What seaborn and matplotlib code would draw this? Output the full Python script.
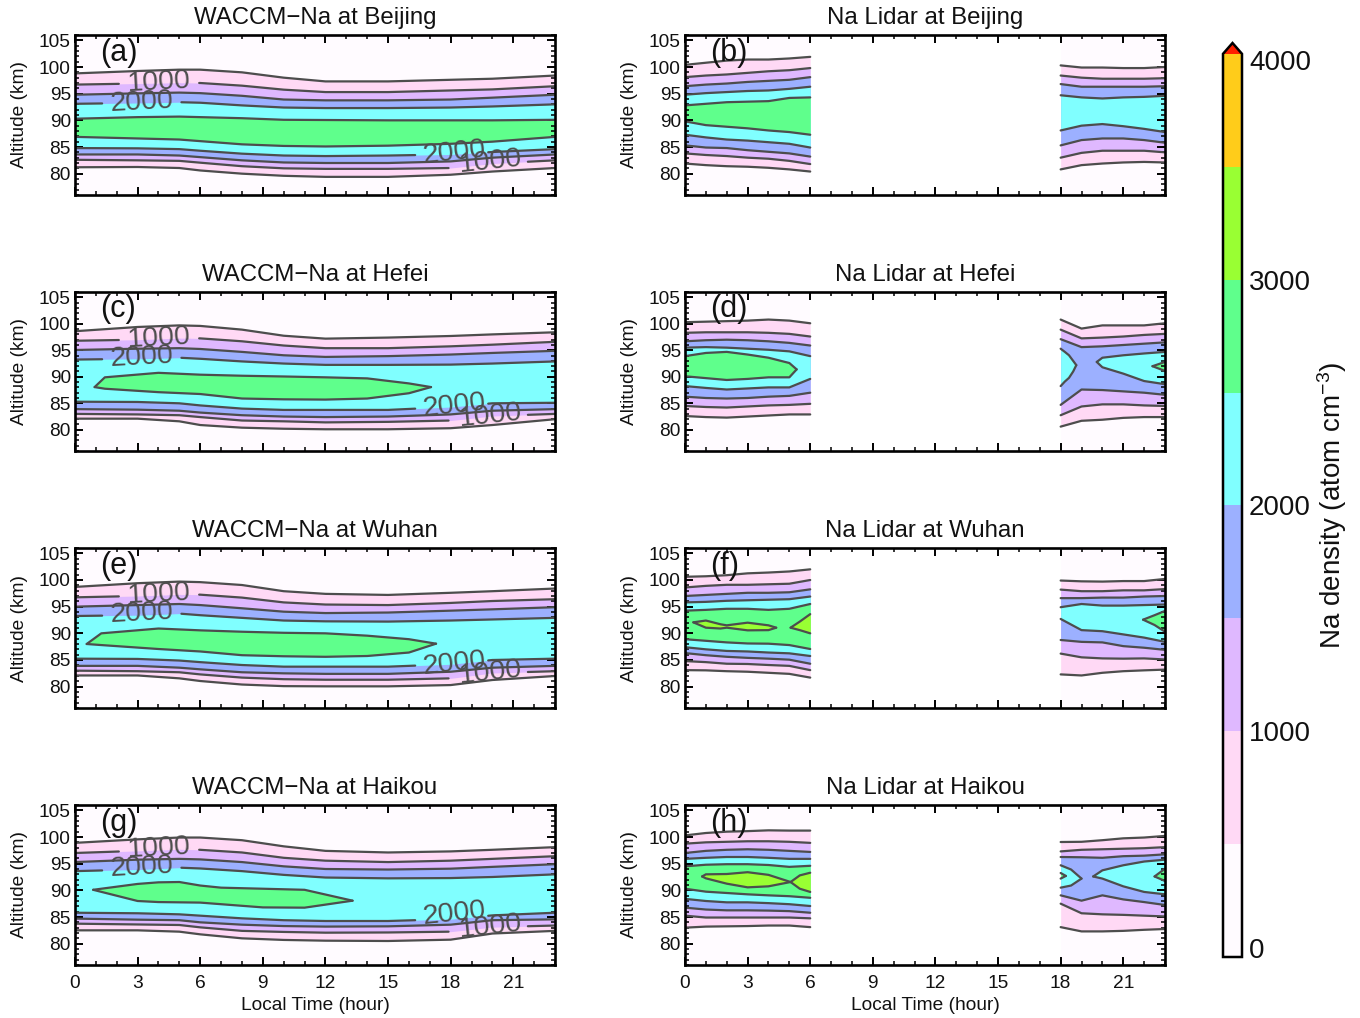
import numpy as np
import matplotlib
matplotlib.use('Agg')
import matplotlib.pyplot as plt
from matplotlib.cm import ScalarMappable
from matplotlib.colors import BoundaryNorm, ListedColormap
from matplotlib.ticker import MultipleLocator
from matplotlib.transforms import ScaledTranslation
import seaborn as sns

# band levels: each band is the region with density above that level
levels = [500, 1000, 1500, 2000, 2500, 3000, 3500]
level_edges = [0, 500, 1000, 1500, 2000, 2500, 3000, 3500, 4000]
band_colors = ['#FFFBFF', '#FFD9F5', '#DFB8FF', '#9CB0FF', '#80FFFF', '#5FFF8C', '#99FF33', '#FFCC1A']
cbar_ticks = [0, 1000, 2000, 3000, 4000]

# contour altitudes (km)
waccm_hours = [0, 3, 5, 6, 8, 10, 12, 15, 18, 20, 23]
left_hours = [0, 1, 2, 3, 4, 5, 6]
right_hours = [18, 19, 20, 21, 22, 23]

# (a) WACCM Beijing
a_upper = [[98.8, 99.25, 99.5, 99.5, 99, 98, 97.3, 97.3, 97.6, 97.8, 98.4],
           [96.7, 96.9, 97.06, 97, 96.5, 95.75, 95.3, 95.3, 95.6, 95.8, 96.4],
           [94.8, 95.06, 95.2, 95.1, 94.6, 93.9, 93.75, 93.75, 93.9, 94.25, 94.8],
           [93.1, 93.25, 93.4, 93.3, 92.8, 92.4, 92.3, 92.3, 92.4, 92.6, 93],
           [90.3, 90.6, 90.7, 90.6, 90.4, 90.1, 90.06, 90, 90, 90, 90.1]]
a_lower = [[81.2, 81.25, 81.06, 80.6, 80, 79.6, 79.4, 79.4, 79.8, 80.4, 81.06],
           [82.6, 82.5, 82.4, 82.06, 81.4, 81, 80.9, 80.9, 81.06, 81.9, 82.5],
           [83.6, 83.6, 83.4, 83.1, 82.5, 82.1, 82, 82, 82.3, 83, 83.6],
           [84.8, 84.75, 84.6, 84.3, 83.75, 83.4, 83.3, 83.4, 83.6, 84.06, 84.6],
           [86.9, 86.6, 86.4, 86.1, 85.5, 85.2, 85.1, 85.25, 85.6, 86, 86.9]]
a_labels = [97.1, 93.35, 83.85, 82.2]

# (c) WACCM Hefei
c_upper = [[98.6, 99.4, 99.7, 99.6, 98.9, 97.75, 97.2, 97.4, 97.7, 98, 98.4],
           [96.8, 97, 97.3, 97.25, 96.7, 95.9, 95.4, 95.4, 95.75, 96.06, 96.6],
           [95.06, 95.3, 95.4, 95.25, 94.7, 94.06, 93.75, 93.9, 94.2, 94.5, 94.9],
           [93.25, 93.4, 93.6, 93.4, 92.9, 92.5, 92.25, 92.25, 92.3, 92.5, 92.9]]
c_lower = [[82.1, 82.1, 81.6, 80.9, 80.4, 80.2, 80.1, 80.1, 80.3, 80.9, 82],
           [83, 82.9, 82.75, 82.4, 81.75, 81.6, 81.4, 81.5, 81.75, 82.6, 83],
           [83.9, 83.8, 83.6, 83.25, 82.75, 82.5, 82.4, 82.5, 82.9, 83.6, 83.9],
           [85.3, 85.25, 85, 84.6, 84, 83.75, 83.75, 83.75, 84.3, 85, 85.1]]
c_blob_hours = [0.94, 1.43, 4, 6, 8, 10, 12, 14, 16, 17.06]
c_blob_upper = [88.06, 89.9, 90.75, 90.4, 90.2, 90.06, 89.9, 89.7, 88.75, 88.06]
c_blob_lower = [88.06, 87.75, 87.1, 86.75, 85.9, 85.75, 85.7, 85.9, 86.9, 88.06]
c_labels = [97.2, 93.6, 84.6, 82.7]

# (e) WACCM Wuhan
e_upper = [[98.7, 99.4, 99.7, 99.6, 99.06, 97.9, 97.4, 97.2, 97.6, 97.9, 98.4],
           [96.75, 97, 97.3, 97.25, 96.7, 95.8, 95.4, 95.3, 95.7, 96.06, 96.4],
           [95, 95.3, 95.5, 95.3, 94.7, 94.06, 93.8, 93.9, 94.25, 94.5, 94.9],
           [93.25, 93.4, 93.7, 93.4, 92.9, 92.4, 92.25, 92.2, 92.4, 92.6, 92.9]]
e_lower = [[82.1, 82.1, 81.56, 81.06, 80.4, 80.1, 80.06, 80.06, 80.3, 81.25, 82],
           [83, 82.9, 82.7, 82.3, 81.7, 81.4, 81.3, 81.3, 81.56, 82.56, 82.9],
           [83.9, 83.9, 83.56, 83.25, 82.7, 82.5, 82.4, 82.4, 82.8, 83.56, 83.9],
           [85.25, 85.2, 84.9, 84.6, 84.06, 83.75, 83.75, 83.75, 84.2, 85, 85.25]]
e_blob_hours = [0.56, 1.26, 4, 6, 8, 10, 12, 14, 16, 17.3]
e_blob_upper = [88, 90, 90.9, 90.56, 90.3, 90.1, 90, 89.56, 88.9, 88.06]
e_blob_lower = [88, 87.8, 87.06, 86.6, 85.9, 85.7, 85.6, 85.75, 86.4, 88.06]
e_labels = [97.4, 93.66, 84.3, 82.7]

# (g) WACCM Haikou
g_upper = [[98.9, 99.56, 99.9, 99.9, 99.4, 98.25, 97.4, 97.1, 97.3, 97.6, 98.1],
           [97, 97.4, 97.7, 97.6, 97.1, 96.1, 95.56, 95.3, 95.56, 95.9, 96.4],
           [95.3, 95.75, 95.9, 95.8, 95.3, 94.5, 94, 93.9, 94.06, 94.4, 94.9],
           [93.6, 93.9, 94.25, 94.1, 93.6, 92.9, 92.4, 92.25, 92.3, 92.5, 93]]
g_lower = [[82.5, 82.5, 82.25, 81.75, 81, 80.7, 80.56, 80.5, 80.75, 81.9, 82.4],
           [83.75, 83.6, 83.5, 83.06, 82.4, 82.2, 82.06, 82.1, 82.25, 83.1, 83.4],
           [84.7, 84.5, 84.4, 84, 83.56, 83.3, 83.2, 83.25, 83.56, 84.4, 84.56],
           [85.8, 85.7, 85.5, 85.25, 84.75, 84.4, 84.25, 84.25, 84.6, 85.3, 85.8]]
g_blob_hours = [0.87, 3, 4, 5, 6, 7, 9, 11, 13.3]
g_blob_upper = [90.1, 91.2, 91.5, 91.56, 90.9, 90.5, 90.3, 90.1, 88.06]
g_blob_lower = [90.1, 88, 87.8, 87.75, 87.7, 87.4, 86.8, 86.75, 88.06]
g_labels = [97.9, 94.3, 85.66, 83.2]

# (b) lidar Beijing
b_left_upper = [[100.4, 100.8, 101.2, 101.4, 101.4, 101.6, 101.9],
                [98.1, 98.4, 98.6, 98.9, 99.2, 99.4, 99.8],
                [96.4, 96.7, 96.9, 97.2, 97.4, 97.6, 98.1],
                [94.8, 95.1, 95.3, 95.5, 95.6, 95.9, 96.3],
                [92.8, 93.1, 93.4, 93.5, 93.6, 94.2, 94.3]]
b_left_lower = [[81.9, 81.6, 81.4, 81.3, 81.1, 80.8, 80.4],
                [83.8, 83.5, 83.3, 83, 82.8, 82.4, 81.8],
                [85.3, 84.9, 84.8, 84.4, 84.1, 83.8, 83.2],
                [87.3, 86.8, 86.4, 86.2, 85.9, 85.6, 84.9],
                [89.8, 89.1, 88.8, 88.5, 88.1, 87.8, 87.3]]
b_right_upper = [[100.3, 99.9, 99.9, 99.8, 99.8, 100],
                 [98.4, 98, 97.8, 97.8, 97.8, 97.9],
                 [96.8, 96.3, 96.3, 96.3, 96.3, 96.4],
                 [94.7, 94.3, 94.1, 94.3, 94.4, 94.6]]
b_right_lower = [[80.8, 81.6, 81.9, 82.1, 82.2, 82.1],
                 [83, 83.9, 84.3, 84.3, 84.3, 84],
                 [85.3, 86.3, 86.6, 86.6, 86.3, 85.8],
                 [88.1, 89, 89.3, 88.9, 88.4, 87.8]]

# (d) lidar Hefei
d_left_upper = [[100.3, 100.4, 100.5, 100.6, 100.8, 100.6, 100.1],
                [98.3, 98.4, 98.4, 98.4, 98.3, 98.1, 97.6],
                [96.7, 96.9, 97, 96.9, 96.7, 96.4, 95.9],
                [95.5, 95.6, 95.5, 95.3, 95.1, 94.8, 93.9]]
d_left_lower = [[82.6, 82.4, 82.3, 82.5, 82.7, 82.9, 82.9],
                [84.5, 84.3, 84.2, 84.4, 84.6, 84.7, 84.9],
                [86.25, 86, 85.9, 86, 86.25, 86.4, 87],
                [88.25, 87.9, 87.6, 87.8, 88, 88, 89.6]]
d_blob_hours = [0, 1, 2, 3, 4, 5, 5.35]
d_blob_upper = [93.9, 94.5, 94.7, 94.2, 93.6, 92.6, 91.4]
d_blob_lower = [90.1, 89.75, 89.4, 89.6, 89.9, 89.9, 91.4]
d_right_upper = [[100.8, 99.1, 99.7, 99.7, 99.7, 100.1],
                 [98.9, 97.25, 97.4, 97.6, 97.9, 98.1],
                 [97.1, 95.6, 95.75, 96, 96.25, 96.5]]
d_right_lower = [[80.6, 81.7, 81.9, 82.25, 82.4, 82.4],
                 [82.75, 84.4, 84.8, 84.8, 84.6, 84.5],
                 [84.7, 87.6, 87.5, 87.25, 87, 86.6]]
d_rblob1_hours = [18, 18.2, 18.4, 18.6, 18.75]
d_rblob1_upper = [95.3, 94.7, 94.06, 93, 92.2]
d_rblob1_lower = [88.25, 89.1, 89.8, 91, 92.2]
d_rblob2_hours = [19.73, 20, 21, 22, 23]
d_rblob2_upper = [92.8, 93.6, 94.06, 94.4, 94.7]
d_rblob2_lower = [92.8, 91.8, 90.6, 89.2, 88.6]
d_rblob3_hours = [22.4, 23]
d_rblob3_upper = [92, 92.8]
d_rblob3_lower = [92, 91.1]

# (f) lidar Wuhan
f_left_upper = [[100.6, 100.7, 100.9, 101.25, 101.4, 101.6, 102],
                [98.6, 98.9, 99.1, 99.1, 99.2, 99.3, 100],
                [97, 97.2, 97.4, 97.6, 97.6, 97.7, 98.25],
                [95.8, 95.9, 96.1, 96.2, 96.3, 96.4, 96.9],
                [94.25, 94.4, 94.6, 94.6, 94.4, 94.6, 95.5]]
f_left_lower = [[83.1, 83.06, 82.9, 82.8, 82.6, 82.4, 81.7],
                [84.8, 84.6, 84.3, 84.25, 84.06, 83.9, 83.1],
                [86.3, 85.9, 85.6, 85.4, 85.25, 85.06, 84.3],
                [87.4, 87, 86.7, 86.6, 86.4, 86.25, 85.75],
                [88.9, 88.6, 88.3, 88.1, 88.06, 87.8, 87.06]]
f_blob1_hours = [0.4, 1, 1.7, 2, 3, 4, 4.37]
f_blob1_upper = [92.06, 92.4, 91.7, 91.5, 92, 91.5, 91.06]
f_blob1_lower = [92.06, 91.06, 90.9, 91.06, 90.56, 90.6, 91.06]
f_blob2_hours = [5.06, 5.5, 6]
f_blob2_upper = [91.06, 92.2, 93.6]
f_blob2_lower = [91.06, 90.6, 90]
f_right_upper = [[99.9, 99.75, 99.7, 99.8, 99.8, 100.2],
                 [98.2, 97.9, 97.9, 98.06, 98.06, 98.3],
                 [96.6, 96.6, 96.7, 96.7, 96.9, 97],
                 [94.9, 95.5, 95.2, 95.2, 95.3, 95.4]]
f_right_lower = [[82.3, 82.1, 82.6, 82.9, 83.06, 83.2],
                 [86.2, 85.5, 85.3, 85.25, 85.3, 85.1],
                 [88.75, 88.4, 88.3, 87.6, 87.3, 86.9],
                 [92.7, 90.6, 90.4, 89.8, 89.2, 88.4]]
f_rblob_hours = [21.95, 22.5, 23]
f_rblob_upper = [92.56, 93.4, 94.2]
f_rblob_lower = [92.56, 91.56, 90.3]

# (h) lidar Haikou
h_left_upper = [[100.3, 100.75, 101, 101.1, 101.25, 101.2, 101.2],
                [98.75, 99, 99.1, 99.2, 99.2, 99.1, 98.9],
                [97, 97.4, 97.6, 97.7, 97.6, 97.4, 97.2],
                [95.9, 96.1, 96.25, 96.25, 96.1, 95.9, 95.9],
                [94.5, 94.8, 94.9, 94.9, 94.75, 94.4, 94.6]]
h_left_lower = [[83, 83.2, 83.25, 83.3, 83.4, 83.4, 83.1],
                [85.25, 84.9, 84.9, 84.9, 84.9, 84.9, 84.75],
                [86.75, 86.4, 86.25, 86.25, 86.2, 86.1, 85.8],
                [88.4, 88, 87.75, 87.75, 87.6, 87.4, 87.06],
                [90.3, 89.75, 89.5, 89.25, 89.06, 88.9, 88.6]]
h_blob1_hours = [0.82, 1, 2, 3, 4, 5.06]
h_blob1_upper = [92.6, 93, 93.06, 93.4, 92.9, 91.56]
h_blob1_lower = [92.6, 92.25, 91.25, 90.56, 90.75, 91.56]
h_blob2_hours = [5.06, 5.5, 6]
h_blob2_upper = [91.56, 92.8, 93.3]
h_blob2_lower = [91.56, 90.3, 89.7]
h_right_upper = [[99.06, 99.1, 99.4, 99.75, 99.9, 100.2],
                 [97.3, 97.6, 97.7, 97.8, 97.9, 98.1],
                 [96.25, 96.2, 96.1, 96.4, 96.5, 96.75]]
h_right_lower = [[83.1, 82.3, 82.3, 82.4, 82.6, 82.75],
                 [87.5, 85.7, 85.5, 85.4, 85.25, 85.1],
                 [89.06, 88.06, 89.06, 88.3, 87.8, 87.25]]
h_rblob1_hours = [18, 18.5, 19]
h_rblob1_upper = [94.7, 93.9, 92.2]
h_rblob1_lower = [90.5, 90.9, 92.2]
h_rblob2_hours = [18, 18.25]
h_rblob2_upper = [93.25, 92.7]
h_rblob2_lower = [92.2, 92.7]
h_rblob3_hours = [19.56, 20, 21, 22, 23]
h_rblob3_upper = [92.6, 93.75, 94.7, 95.4, 95.75]
h_rblob3_lower = [92.6, 92.2, 90.75, 89.7, 89.25]
h_rblob4_hours = [22.5, 23]
h_rblob4_upper = [92.6, 94.06]
h_rblob4_lower = [92.6, 91.75]

# contour labels on the WACCM panels: text, hour, rotation, line gap
label_text = ['1000', '2000', '2000', '1000']
label_hours = [4.05, 3.2, 18.2, 19.9]
label_rot = [3, 3, 6, 6]
upper_gaps = {1000: (2.1, 5.95), 2000: (1.3, 5.1)}
lower_gaps = {2000: (16.3, 19.8), 1000: (17.9, 21.7)}

# axes boxes in pixels of the 1360x1018 figure
W, H = 1360, 1018
row_px = [(35, 195), (292, 451), (548, 708), (805, 965)]
col_px = [(75, 555), (685, 1165)]
line_color = '#4d4d4d'


def px_rect(left, top, right, bottom):
    return [left / W, 1 - bottom / H, (right - left) / W, (bottom - top) / H]


def draw_line(ax, hours, alts, gap=None):
    """Draw one contour, leaving a hole where its label sits."""
    hours = np.asarray(hours, float)
    alts = np.asarray(alts, float)
    if gap is None:
        parts = [(hours, alts)]
    else:
        g0, g1 = gap
        y0, y1 = np.interp([g0, g1], hours, alts)
        m0, m1 = hours < g0, hours > g1
        parts = [(np.append(hours[m0], g0), np.append(alts[m0], y0)),
                 (np.insert(hours[m1], 0, g1), np.insert(alts[m1], 0, y1))]
    for xs, ys in parts:
        sns.lineplot(x=xs, y=ys, ax=ax, color=line_color, lw=1.6, sort=False,
                     estimator=None, zorder=4)


def draw_segment(ax, hours, upper, lower, blobs=(), gaps=False):
    """Paint nested bands for one stretch of hours, then their contours."""
    ax.fill_between([hours[0], hours[-1]], 76, 106, color=band_colors[0], lw=0, zorder=1)
    bands = []
    for i, (up, lo) in enumerate(zip(upper, lower)):
        bands.append((levels[i], hours, up, lo))
    bands += list(blobs)
    bands.sort(key=lambda b: b[0])
    for level, hh, up, lo in bands:
        color = band_colors[levels.index(level) + 1]
        ax.fill_between(hh, lo, up, color=color, lw=0, zorder=2)
    for level, hh, up, lo in bands:
        draw_line(ax, hh, up, upper_gaps.get(level) if gaps else None)
        draw_line(ax, hh, lo, lower_gaps.get(level) if gaps else None)


sns.set_theme(style='ticks')
plt.rcParams['font.family'] = ['Liberation Sans', 'DejaVu Sans']
plt.rcParams['mathtext.default'] = 'regular'
plt.rcParams['axes.linewidth'] = 1.9
plt.rcParams['axes.edgecolor'] = 'black'

fig = plt.figure(figsize=(W / 100, H / 100), dpi=100)

panels = [
    ('WACCM\u2212Na at Beijing', '(a)', 0, 0),
    ('Na Lidar at Beijing', '(b)', 0, 1),
    ('WACCM\u2212Na at Hefei', '(c)', 1, 0),
    ('Na Lidar at Hefei', '(d)', 1, 1),
    ('WACCM\u2212Na at Wuhan', '(e)', 2, 0),
    ('Na Lidar at Wuhan', '(f)', 2, 1),
    ('WACCM\u2212Na at Haikou', '(g)', 3, 0),
    ('Na Lidar at Haikou', '(h)', 3, 1),
]
axes = {}
for title, tag, r, c in panels:
    ax = fig.add_axes(px_rect(col_px[c][0], row_px[r][0], col_px[c][1], row_px[r][1]))
    axes[tag] = ax
    ax.set_title(title, fontsize=17.3, color='#111111', pad=8)
    ax.text(1.22, 102.7, tag, fontsize=22, color='#111111', va='center', zorder=6)

draw_segment(axes['(a)'], waccm_hours, a_upper, a_lower, gaps=True)
draw_segment(axes['(c)'], waccm_hours, c_upper, c_lower, gaps=True,
             blobs=[(2500, c_blob_hours, c_blob_upper, c_blob_lower)])
draw_segment(axes['(e)'], waccm_hours, e_upper, e_lower, gaps=True,
             blobs=[(2500, e_blob_hours, e_blob_upper, e_blob_lower)])
draw_segment(axes['(g)'], waccm_hours, g_upper, g_lower, gaps=True,
             blobs=[(2500, g_blob_hours, g_blob_upper, g_blob_lower)])

draw_segment(axes['(b)'], left_hours, b_left_upper, b_left_lower)
draw_segment(axes['(b)'], right_hours, b_right_upper, b_right_lower)
draw_segment(axes['(d)'], left_hours, d_left_upper, d_left_lower,
             blobs=[(2500, d_blob_hours, d_blob_upper, d_blob_lower)])
draw_segment(axes['(d)'], right_hours, d_right_upper, d_right_lower,
             blobs=[(2000, d_rblob1_hours, d_rblob1_upper, d_rblob1_lower),
                    (2000, d_rblob2_hours, d_rblob2_upper, d_rblob2_lower),
                    (2500, d_rblob3_hours, d_rblob3_upper, d_rblob3_lower)])
draw_segment(axes['(f)'], left_hours, f_left_upper, f_left_lower,
             blobs=[(3000, f_blob1_hours, f_blob1_upper, f_blob1_lower),
                    (3000, f_blob2_hours, f_blob2_upper, f_blob2_lower)])
draw_segment(axes['(f)'], right_hours, f_right_upper, f_right_lower,
             blobs=[(2500, f_rblob_hours, f_rblob_upper, f_rblob_lower)])
draw_segment(axes['(h)'], left_hours, h_left_upper, h_left_lower,
             blobs=[(3000, h_blob1_hours, h_blob1_upper, h_blob1_lower),
                    (3000, h_blob2_hours, h_blob2_upper, h_blob2_lower)])
draw_segment(axes['(h)'], right_hours, h_right_upper, h_right_lower,
             blobs=[(2000, h_rblob1_hours, h_rblob1_upper, h_rblob1_lower),
                    (2500, h_rblob2_hours, h_rblob2_upper, h_rblob2_lower),
                    (2000, h_rblob3_hours, h_rblob3_upper, h_rblob3_lower),
                    (2500, h_rblob4_hours, h_rblob4_upper, h_rblob4_lower)])

# contour labels
for tag, alts in [('(a)', a_labels), ('(c)', c_labels), ('(e)', e_labels), ('(g)', g_labels)]:
    for txt, hr, rot, alt in zip(label_text, label_hours, label_rot, alts):
        axes[tag].text(hr, alt, txt, fontsize=20.5, color=line_color, rotation=rot,
                       ha='center', va='center', zorder=5, rotation_mode='anchor')

# IDL style frame: inward ticks on every side
for title, tag, r, c in panels:
    ax = axes[tag]
    ax.set_xlim(0, 23)
    ax.set_ylim(76, 106)
    ax.set_axisbelow(False)
    ax.xaxis.set_major_locator(MultipleLocator(3))
    ax.xaxis.set_minor_locator(MultipleLocator(1))
    ax.yaxis.set_major_locator(MultipleLocator(5))
    ax.yaxis.set_minor_locator(MultipleLocator(1))
    ax.tick_params(which='major', direction='in', top=True, right=True, length=6,
                   width=1.4, labelsize=13.8, pad=3, color='black', labelcolor='#111111')
    ax.tick_params(which='minor', direction='in', top=True, right=True, length=3,
                   width=1.1, color='black')
    ax.tick_params(axis='x', which='major', pad=7)
    ax.set_yticks([80, 85, 90, 95, 100, 105])
    ax.set_ylabel('Altitude (km)', fontsize=13.8, color='#111111', labelpad=8)
    if r == 3:
        ax.set_xticks(range(0, 22, 3))
        ax.set_xlabel('Local Time (hour)', fontsize=13.8, color='#111111', labelpad=3.5)
    else:
        ax.set_xticklabels([])
    for spine in ax.spines.values():
        spine.set_zorder(7)

# colour bar
cmap = ListedColormap(band_colors)
cmap.set_over('#FF2000')
norm = BoundaryNorm(level_edges, cmap.N)
cax = fig.add_axes(px_rect(1223, 43, 1242, 957))
cbar = fig.colorbar(ScalarMappable(norm=norm, cmap=cmap), cax=cax, extend='max',
                    extendfrac=0.012, ticks=cbar_ticks, spacing='proportional')
cbar.outline.set_linewidth(1.8)
cbar.outline.set_edgecolor('black')
cax.tick_params(which='major', direction='in', length=4, width=1.2, labelsize=20,
                pad=5, color='black', labelcolor='#111111')
cax.minorticks_off()
# the end labels sit just inside the bar ends
tick_labels = cax.get_yticklabels()
tick_labels[0].set_transform(tick_labels[0].get_transform()
                             + ScaledTranslation(0, 9 / 100, fig.dpi_scale_trans))
tick_labels[-1].set_transform(tick_labels[-1].get_transform()
                              + ScaledTranslation(0, -6 / 100, fig.dpi_scale_trans))
cbar.set_label('Na density (atom cm$^{-3}$)', fontsize=20, color='#111111', labelpad=3)

fig.savefig('out.png', dpi=100)
